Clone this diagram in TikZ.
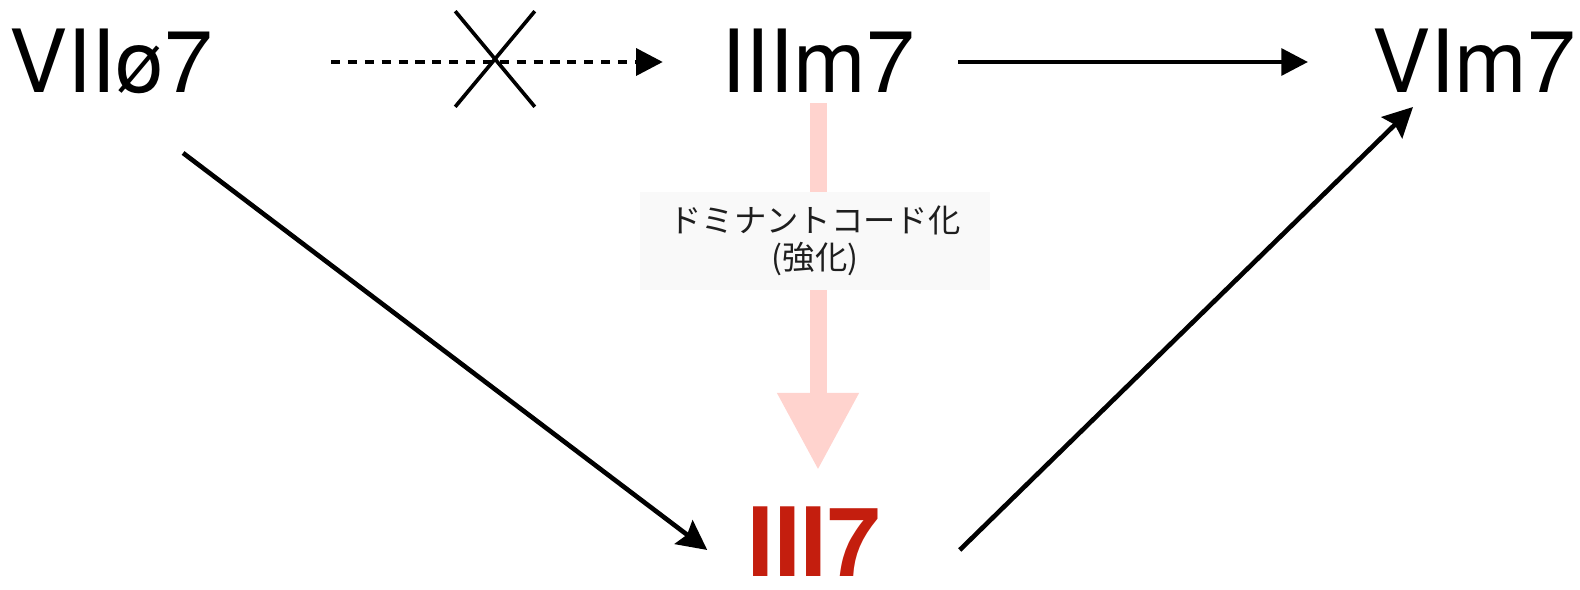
\documentclass[tikz,border=0pt]{standalone}
\usepackage{fontspec}
\setmainfont{TeX Gyre Heros}
\newfontfamily\cjk{Noto Sans CJK JP}
\usetikzlibrary{arrows.meta,shapes.misc}
\newcommand{\pxu}{0.025cm}
\definecolor{chordred}{RGB}{196,30,14}
\definecolor{boostpink}{RGB}{255,211,206}
\definecolor{notegray}{RGB}{249,249,249}
\definecolor{notetext}{RGB}{30,30,30}

\begin{document}
\begin{tikzpicture}[x=0.025cm,y=-0.025cm]
	\tikzstyle{Chord} = [inner sep=0pt, anchor=base, font=\fontsize{62}{62}\selectfont]
	\tikzstyle{Target} = [inner sep=0pt, anchor=base, text=chordred, font=\bfseries\fontsize{68}{68}\selectfont]
	\tikzstyle{Note} = [fill=notegray, text=notetext, align=center, minimum width=249pt, minimum height=69.7pt, inner sep=0pt, font=\fontsize{23}{26.5}\cjk]
	\tikzstyle{Nope} = [cross out, draw, line width=2.6pt, minimum width=54pt, minimum height=65.4pt, inner sep=0pt]
	\tikzstyle{Move} = [line width=3.1pt, -{Triangle[length=19pt,width=19pt]}]
	\tikzstyle{Weak} = [Move, dash pattern=on 6.5pt off 5.5pt]
	\tikzstyle{Lead} = [line width=3.3pt, -{Stealth[length=21pt,width=21pt,inset=3pt]}]
	\tikzstyle{Boost} = [draw=boostpink, line width=12.1pt, -{Triangle[length=54.8pt,width=54.8pt]}, shorten >=36*\pxu]
	\useasboundingbox (0,0) rectangle (1580,590);
	% chords
	\node (vii) at (111,93) [Chord] {VIIø7};
	\node (iii) at (818,93) [Chord] {IIIm7};
	\node (vi) at (1474,93) [Chord] {VIm7};
	\node (iii7) at (814,576) [Target] {III7};
	% dominant
	\draw [Boost] ([shift={(0,10)}]iii.south) to (iii.south |- iii7.north);
	\node (note) at (815,241) [Note] {ドミナントコード化\\(強化)};
	% progressions
	\draw [Weak] ([shift={(118,-31)}]vii.base east) to ([shift={(-58,-31)}]iii.base west);
	\node (nope) at (495,59) [Nope] {};
	\draw [Move] ([shift={(43,-31)}]iii.base east) to ([shift={(-64,-31)}]vi.base west);
	\draw [Lead] ([shift={(-30,60)}]vii.base east) to ([shift={(-40,-26)}]iii7.base west);
	\draw [Lead] ([shift={(79,-26)}]iii7.base east) to ([shift={(41,14)}]vi.base west);
\end{tikzpicture}
\end{document}
